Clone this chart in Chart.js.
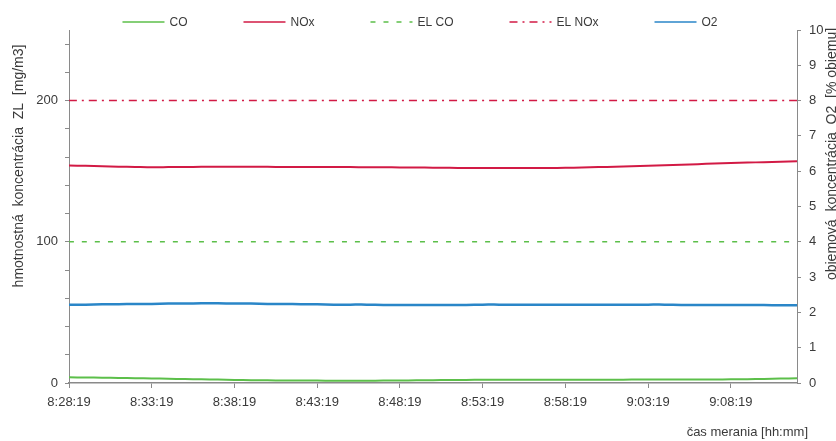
<!DOCTYPE html>
<html>
<head>
<meta charset="utf-8">
<title>Koncentrácia ZL a O2</title>
<script src="https://cdn.jsdelivr.net/npm/chart.js@4.4.1/dist/chart.umd.min.js"></script>
<style>
  body { margin: 0; background: #fff; }
  #wrap { width: 836px; height: 441px; }
</style>
</head>
<body>
<div id="wrap"><canvas id="chart" width="836" height="441"></canvas></div>
<script>
// measurement 8:28:19 - 9:12:19, one reading per minute
const startTime = [8, 28, 19];
const minutes = [0,1,2,3,4,5,6,7,8,9,10,11,12,13,14,15,16,17,18,19,20,21,22,23,24,25,26,27,28,29,30,31,32,33,34,35,36,37,38,39,40,41,42,43,44];

// CO [mg/m3]
const coValues = [4.0,3.9,3.8,3.6,3.4,3.2,3.0,2.8,2.6,2.4,2.2,2.0,1.9,1.8,1.7,1.7,1.6,1.6,1.6,1.7,1.8,1.9,2.0,2.1,2.2,2.3,2.3,2.3,2.3,2.3,2.3,2.3,2.3,2.3,2.4,2.4,2.4,2.4,2.5,2.5,2.6,2.7,2.9,3.1,3.3];
// NOx [mg/m3]
const noxValues = [154.0,153.8,153.5,153.2,153.0,152.8,152.9,153.0,153.1,153.1,153.2,153.2,153.1,153.0,153.0,153.0,152.9,152.9,152.8,152.8,152.7,152.6,152.5,152.4,152.3,152.3,152.2,152.2,152.3,152.3,152.4,152.6,152.9,153.2,153.5,153.8,154.2,154.6,155.0,155.4,155.8,156.1,156.4,156.7,157.0];
// O2 [% objemu]
const o2Values = [2.22,2.22,2.23,2.23,2.24,2.24,2.25,2.25,2.26,2.26,2.25,2.25,2.24,2.24,2.23,2.23,2.22,2.22,2.22,2.21,2.21,2.21,2.21,2.21,2.21,2.22,2.22,2.22,2.22,2.22,2.22,2.22,2.22,2.22,2.22,2.22,2.22,2.21,2.21,2.21,2.21,2.21,2.21,2.20,2.20];
// emission limits [mg/m3]
const elCo = 100;
const elNox = 200;

const seriesLabels = ['CO', 'NOx', 'EL CO', 'EL NOx', 'O2'];
const leftTitle = 'hmotnostná  koncentrácia  ZL  [mg/m3]';
const rightTitle = 'objemová  koncentrácia  O2  [% objemu]';
const xTitle = 'čas merania [hh:mm]';

const fontFamily = '"Liberation Sans", Arial, sans-serif';
const textColor = '#3a3a3a';
const axisColor = '#8a8a8a';

Chart.defaults.font.family = fontFamily;
Chart.defaults.color = textColor;

function points(values) {
    return values.map((v, i) => ({ x: minutes[i], y: v }));
}

function limitLine(value) {
    return [{ x: minutes[0], y: value }, { x: minutes[minutes.length - 1], y: value }];
}

function fmtTime(m) {
    const total = startTime[0] * 3600 + startTime[1] * 60 + startTime[2] + m * 60;
    const h = Math.floor(total / 3600);
    const mm = Math.floor((total % 3600) / 60);
    const ss = total % 60;
    return h + ':' + String(mm).padStart(2, '0') + ':' + String(ss).padStart(2, '0');
}

// legend and axis titles drawn by hand (spacing/placement of the original)
const decorPlugin = {
    id: 'decor',
    afterDraw(chart) {
        const ctx = chart.ctx;
        ctx.save();
        ctx.font = '12px ' + fontFamily;
        ctx.textBaseline = 'middle';
        const lineLen = 42, gap = 5, pad = 56, y = 22;
        const items = chart.data.datasets.map(ds => ({ ds, w: lineLen + gap + ctx.measureText(ds.label).width }));
        const total = items.reduce((s, it) => s + it.w, 0) + pad * (items.length - 1);
        let x = 420 - total / 2;
        items.forEach(it => {
            ctx.strokeStyle = it.ds.borderColor;
            ctx.lineWidth = 1.6;
            ctx.setLineDash(it.ds.borderDash || []);
            ctx.beginPath();
            ctx.moveTo(x, y);
            ctx.lineTo(x + lineLen, y);
            ctx.stroke();
            ctx.setLineDash([]);
            ctx.fillStyle = textColor;
            ctx.fillText(it.ds.label, x + lineLen + gap, y + 1);
            x += it.w + pad;
        });

        ctx.fillStyle = textColor;
        ctx.font = '13px ' + fontFamily;
        ctx.textAlign = 'right';
        ctx.fillText(xTitle, 808, 432);

        ctx.font = '14px ' + fontFamily;
        ctx.textAlign = 'center';
        ctx.save();
        ctx.translate(19, 166);
        ctx.rotate(-Math.PI / 2);
        ctx.fillText(leftTitle, 0, 0);
        ctx.restore();
        ctx.save();
        ctx.translate(832, 154);
        ctx.rotate(-Math.PI / 2);
        ctx.fillText(rightTitle, 0, 0);
        ctx.restore();
        ctx.restore();
    }
};

const datasets = [
    { label: seriesLabels[0], data: points(coValues), borderColor: '#5cbf4a', borderWidth: 2, yAxisID: 'y' },
    { label: seriesLabels[1], data: points(noxValues), borderColor: '#d21a45', borderWidth: 2, yAxisID: 'y' },
    { label: seriesLabels[2], data: limitLine(elCo), borderColor: '#5cbf4a', borderWidth: 1.5, borderDash: [5, 8], yAxisID: 'y' },
    { label: seriesLabels[3], data: limitLine(elNox), borderColor: '#d21a45', borderWidth: 1.5, borderDash: [8, 5, 2, 5], yAxisID: 'y' },
    { label: seriesLabels[4], data: points(o2Values), borderColor: '#2a86c8', borderWidth: 2.5, yAxisID: 'y1' }
];
datasets.forEach(ds => { ds.pointRadius = 0; ds.tension = 0.3; ds.fill = false; });

new Chart(document.getElementById('chart'), {
    type: 'line',
    data: { datasets },
    options: {
        responsive: false,
        animation: false,
        layout: { padding: { top: 30, left: 0, right: 0, bottom: 0 } },
        plugins: { legend: { display: false }, tooltip: { enabled: false } },
        scales: {
            x: {
                type: 'linear',
                min: 0,
                max: 44,
                border: { color: axisColor, width: 1.5 },
                grid: { drawOnChartArea: false, tickLength: 5, tickColor: axisColor },
                ticks: {
                    stepSize: 5,
                    includeBounds: false,
                    autoSkip: false,
                    maxRotation: 0,
                    padding: 7,
                    font: { size: 13 },
                    callback: v => fmtTime(v)
                },
                afterFit(scale) { scale.height = 58; }
            },
            y: {
                position: 'left',
                min: 0,
                max: 250,
                border: { color: axisColor, width: 1 },
                grid: { drawOnChartArea: false, tickLength: 4, tickColor: axisColor },
                ticks: {
                    stepSize: 20,
                    includeBounds: false,
                    padding: 7,
                    font: { size: 13 },
                    callback: v => (v % 100 === 0 ? v : '')
                },
                afterFit(scale) { scale.width = 69; }
            },
            y1: {
                position: 'right',
                min: 0,
                max: 10,
                border: { color: axisColor, width: 1 },
                grid: { drawOnChartArea: false, tickLength: 4, tickColor: axisColor },
                ticks: { stepSize: 1, padding: 8, font: { size: 13 } },
                afterFit(scale) { scale.width = 39; }
            }
        }
    },
    plugins: [decorPlugin]
});
</script>
</body>
</html>
